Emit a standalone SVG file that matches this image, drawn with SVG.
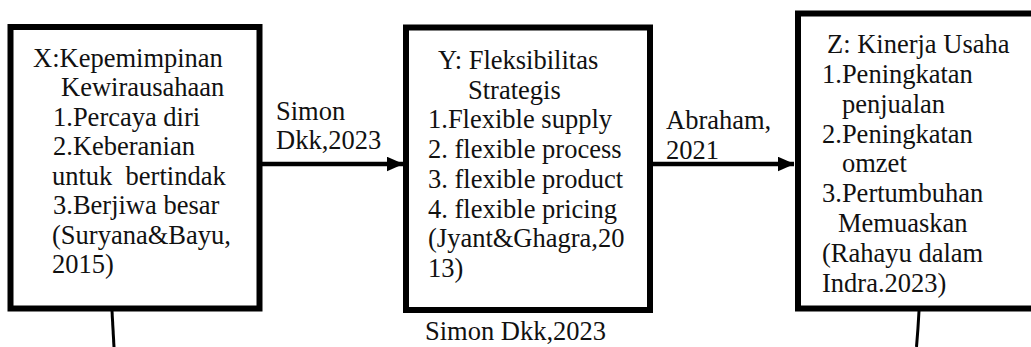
<svg xmlns="http://www.w3.org/2000/svg" width="1031" height="347" viewBox="0 0 1031 347">
<defs>
<style>
.box{fill:#ffffff;stroke:#000000;stroke-width:6}
.t{font-family:"Liberation Serif","Times New Roman",serif;font-size:26.5px;fill:#111111}
.ln{fill:none;stroke:#000000;stroke-width:4.5}
.thin{fill:none;stroke:#000000;stroke-width:3}
</style>
<marker id="ah" markerWidth="17" markerHeight="16" refX="16.5" refY="7.5" orient="auto" markerUnits="userSpaceOnUse">
<path d="M0,0 L17,7.5 L0,15 Z" fill="#000000"/>
</marker>
</defs>
<rect width="1031" height="347" fill="#ffffff"/>
<g id="connectors">
<line class="ln" x1="262" y1="164" x2="403" y2="164" marker-end="url(#ah)"/>
<line class="ln" x1="653" y1="164" x2="794" y2="164" marker-end="url(#ah)"/>
<path class="thin" d="M112,311 Q113,330 114,347"/>
<path class="thin" d="M919,311 Q918,330 916.5,347"/>
</g>
<g id="nodeX">
<rect class="box" x="10.5" y="27" width="249" height="281.5"/>
<text class="t" x="33" y="67">X:Kepemimpinan</text>
<text class="t" x="61" y="96">Kewirausahaan</text>
<text class="t" x="53" y="126">1.Percaya diri</text>
<text class="t" x="53" y="155">2.Keberanian</text>
<text class="t" x="52" y="185" xml:space="preserve">untuk  bertindak</text>
<text class="t" x="53" y="214">3.Berjiwa besar</text>
<text class="t" x="52" y="244">(Suryana&amp;Bayu,</text>
<text class="t" x="52" y="273">2015)</text>
</g>
<g id="nodeY">
<rect class="box" x="406" y="27.5" width="244" height="282.5"/>
<text class="t" x="438" y="69">Y: Fleksibilitas</text>
<text class="t" x="468" y="99">Strategis</text>
<text class="t" x="428" y="128">1.Flexible supply</text>
<text class="t" x="428" y="158">2. flexible process</text>
<text class="t" x="428" y="188">3. flexible product</text>
<text class="t" x="428" y="218">4. flexible pricing</text>
<text class="t" x="428" y="247">(Jyant&amp;Ghagra,20</text>
<text class="t" x="428" y="277">13)</text>
</g>
<g id="nodeZ">
<rect class="box" x="798" y="13.5" width="245" height="295"/>
<text class="t" x="827" y="53">Z: Kinerja Usaha</text>
<text class="t" x="822" y="83">1.Peningkatan</text>
<text class="t" x="842" y="113">penjualan</text>
<text class="t" x="822" y="143">2.Peningkatan</text>
<text class="t" x="842" y="172">omzet</text>
<text class="t" x="822" y="202">3.Pertumbuhan</text>
<text class="t" x="838" y="232">Memuaskan</text>
<text class="t" x="822" y="262">(Rahayu dalam</text>
<text class="t" x="822" y="292">Indra.2023)</text>
</g>
<g id="labels">
<text class="t" x="276" y="120">Simon</text>
<text class="t" x="276" y="149">Dkk,2023</text>
<text class="t" x="666" y="129">Abraham,</text>
<text class="t" x="666" y="159">2021</text>
<text class="t" x="425" y="340">Simon Dkk,2023</text>
</g>
</svg>
